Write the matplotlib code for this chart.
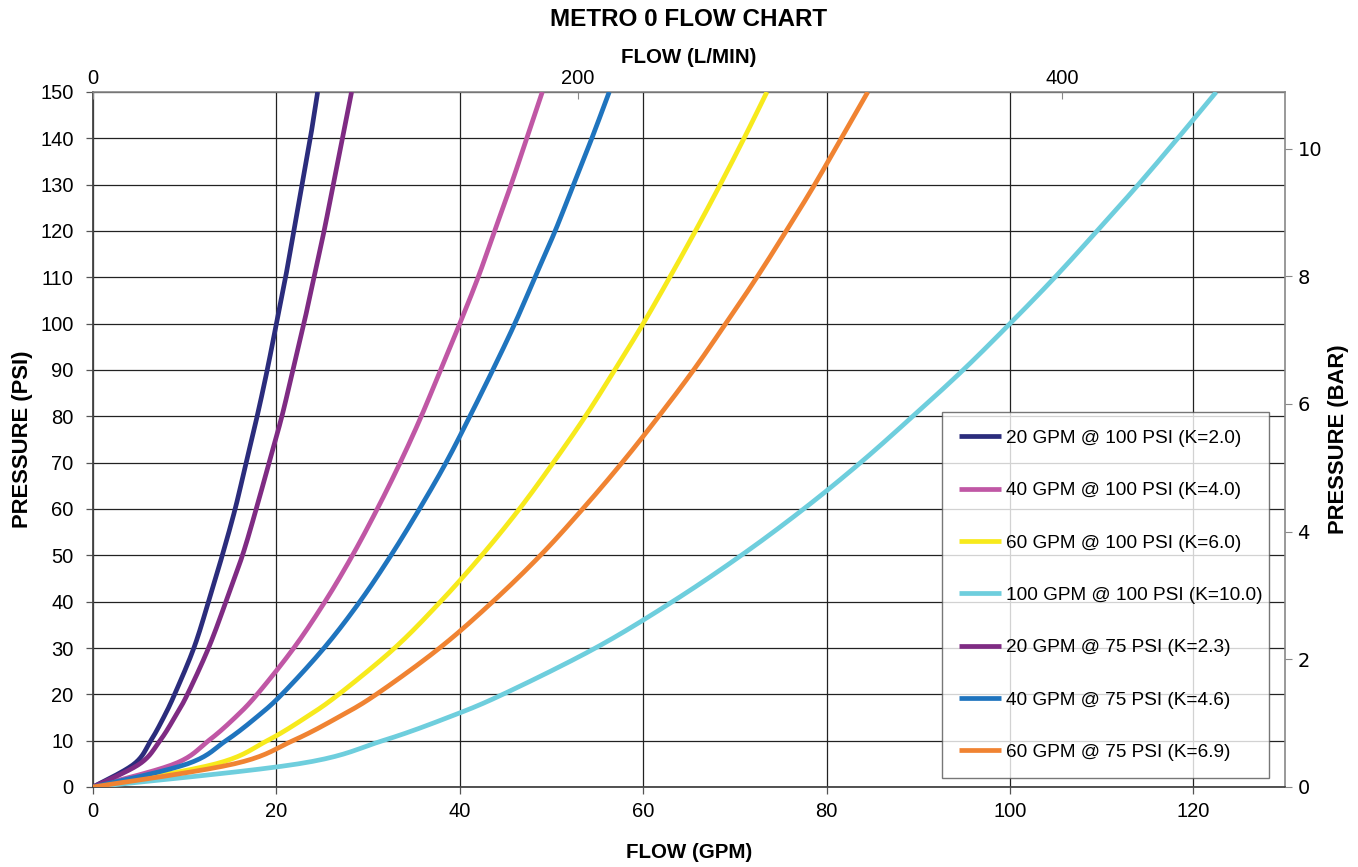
import numpy as np
import matplotlib
matplotlib.use("Agg")
import matplotlib.pyplot as plt

plt.rcParams['font.family'] = ['Liberation Sans', 'DejaVu Sans']

# ---- data (pressure in PSI, flow in GPM) ----
pressure = [0, 5, 10, 15, 20, 30, 40, 50, 60, 70, 80, 90, 100, 110, 120, 130, 140, 150]

flow_k20 = [0, 4.5, 6.3, 7.7, 8.9, 11.0, 12.6, 14.1, 15.5, 16.7, 17.9, 19.0, 20.0, 21.0, 21.9, 22.8, 23.7, 24.5]
flow_k40 = [0, 8.9, 12.6, 15.5, 17.9, 21.9, 25.3, 28.3, 31.0, 33.5, 35.8, 37.9, 40.0, 42.0, 43.8, 45.6, 47.3, 49.0]
flow_k60 = [0, 13.4, 19.0, 23.2, 26.8, 32.9, 37.9, 42.4, 46.5, 50.2, 53.7, 56.9, 60.0, 62.9, 65.7, 68.4, 71.0, 73.5]
flow_k100 = [0, 22.4, 31.6, 38.7, 44.7, 54.8, 63.2, 70.7, 77.5, 83.7, 89.4, 94.9, 100.0, 104.9, 109.5, 114.0, 118.3, 122.5]
flow_k23 = [0, 5.1, 7.3, 8.9, 10.3, 12.6, 14.5, 16.3, 17.8, 19.2, 20.6, 21.8, 23.0, 24.1, 25.2, 26.2, 27.2, 28.2]
flow_k46 = [0, 10.3, 14.5, 17.8, 20.6, 25.2, 29.1, 32.5, 35.6, 38.5, 41.1, 43.6, 46.0, 48.2, 50.4, 52.4, 54.4, 56.3]
flow_k69 = [0, 15.4, 21.8, 26.7, 30.9, 37.8, 43.6, 48.8, 53.4, 57.7, 61.7, 65.5, 69.0, 72.4, 75.6, 78.7, 81.6, 84.5]

labels = ["20 GPM @ 100 PSI (K=2.0)", "40 GPM @ 100 PSI (K=4.0)", "60 GPM @ 100 PSI (K=6.0)",
          "100 GPM @ 100 PSI (K=10.0)", "20 GPM @ 75 PSI (K=2.3)", "40 GPM @ 75 PSI (K=4.6)",
          "60 GPM @ 75 PSI (K=6.9)"]
colors = ["#2B2C7C", "#C057A5", "#F7EA1C", "#6ECEDD", "#7F2B83", "#1F74BE", "#F08332"]
series = [flow_k20, flow_k40, flow_k60, flow_k100, flow_k23, flow_k46, flow_k69]

lpm_ticks = [0, 200, 400]
gpm_ticks = [0, 20, 40, 60, 80, 100, 120]
psi_ticks = list(range(0, 151, 10))
bar_ticks = [0, 2, 4, 6, 8, 10]


def smooth(xs, ys, n=20):
    # Excel-like smoothing (Bezier through points, control = neighbours/6)
    x = np.asarray(xs, float); y = np.asarray(ys, float)
    pts = np.column_stack([x, y])
    out = []
    m = len(pts)
    for i in range(m - 1):
        p0 = pts[i - 1] if i > 0 else pts[i]
        p1 = pts[i]
        p2 = pts[i + 1]
        p3 = pts[i + 2] if i + 2 < m else pts[i + 1]
        c1 = p1 + (p2 - p0) / 6.0
        c2 = p2 - (p3 - p1) / 6.0
        t = np.linspace(0, 1, n)[:, None]
        seg = (1 - t) ** 3 * p1 + 3 * (1 - t) ** 2 * t * c1 + 3 * (1 - t) * t ** 2 * c2 + t ** 3 * p2
        out.append(seg if i == 0 else seg[1:])
    s = np.vstack(out)
    return s[:, 0], s[:, 1]


fig = plt.figure(figsize=(13.58, 8.67), dpi=100)
ax = fig.add_axes([93 / 1358, 1 - 787 / 867, (1285 - 93) / 1358, (787 - 92) / 867])

for fx, lab, col in zip(series, labels, colors):
    sx, sy = smooth(fx, pressure)
    ax.plot(sx, sy, color=col, lw=3.4, label=lab, solid_capstyle='butt', zorder=3)

ax.set_xlim(0, 130)
ax.set_ylim(0, 150)
ax.set_xticks(gpm_ticks)
ax.set_yticks(psi_ticks)
ax.grid(True, color="#222222", lw=0.9, zorder=1)
ax.tick_params(axis='both', labelsize=14.5, length=5, width=0.9, color="#555555", direction='out')
ax.tick_params(axis='y', pad=9)
ax.tick_params(axis='x', pad=6)
for side in ['left', 'bottom']:
    ax.spines[side].set_color("#444444")
    ax.spines[side].set_linewidth(1.3)
for side in ['top', 'right']:
    ax.spines[side].set_color("#888888")
    ax.spines[side].set_linewidth(1.2)
ax.set_xlabel("FLOW (GPM)", fontsize=14.8, fontweight='bold', labelpad=16)
ax.set_ylabel("PRESSURE (PSI)", fontsize=15.8, fontweight='bold', labelpad=5)

# top axis: L/min
axt = ax.twiny()
axt.set_xlim(0, 130)
axt.set_xticks([v / 3.785 for v in lpm_ticks])
axt.set_xticklabels([str(v) for v in lpm_ticks])
axt.tick_params(axis='x', labelsize=14.5, length=5, direction='in', color="#888888", pad=3)
axt.set_xlabel("FLOW (L/MIN)", fontsize=14.8, fontweight='bold', labelpad=4)

# right axis: bar
axr = ax.twinx()
axr.set_ylim(0, 150 / 13.78)
axr.set_yticks(bar_ticks)
axr.tick_params(axis='y', labelsize=14, length=5, color="#888888", pad=4)
for lab in axr.get_yticklabels():
    lab.set_family('DejaVu Sans')
axr.set_ylabel("PRESSURE (BAR)", fontsize=15.8, fontweight='bold', labelpad=4)
for a in (axt, axr):
    for s in a.spines.values():
        s.set_visible(False)

leg = ax.legend(loc='lower left', bbox_to_anchor=((942 - 93) / 1192, (787 - 778) / 695, (1269 - 942) / 1192, (778 - 414) / 695),
                mode='expand', fontsize=13.7, labelspacing=1.84, handlelength=2.2, handletextpad=0.26,
                borderpad=0.9, borderaxespad=0, frameon=True, fancybox=False)
leg.get_frame().set_edgecolor("#555555")
leg.get_frame().set_linewidth(1.0)
leg.set_zorder(5)

fig.text(689 / 1358, 1 - 20 / 867, "METRO 0 FLOW CHART", ha='center', va='center', fontsize=17.5, fontweight='bold')

fig.savefig("out.png", dpi=100)
